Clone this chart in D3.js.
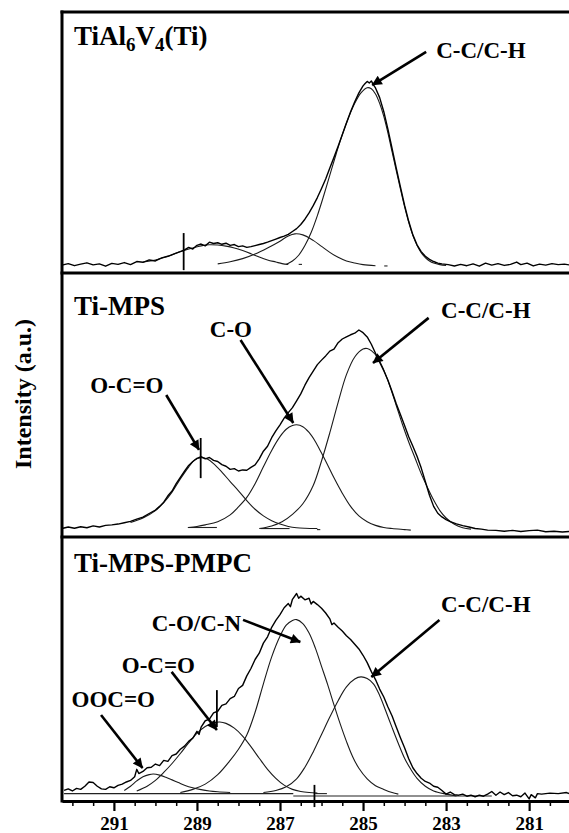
<!DOCTYPE html>
<html><head><meta charset="utf-8">
<script src="https://cdn.jsdelivr.net/npm/d3@7"></script>
<style>
html,body{margin:0;padding:0;background:#fff;}
svg{display:block;}
text{font-family:"Liberation Serif","Times New Roman",serif;font-weight:bold;fill:#000;}
</style></head><body>
<svg id="chart" width="569" height="833"></svg>
<script>
// ---------------- DATA ----------------
const energyDomain = [292.25, 280.04];           // binding energy (eV), reversed axis
const majorTickValues = [291, 289, 287, 285, 283, 281];
const minorTickValues = [292, 291.5, 290.5, 290, 289.5, 288.5, 288, 287.5, 286.5, 286, 285.5, 284.5, 284, 283.5, 282.5, 282, 281.5, 280.5];
const yAxisTitle = "Intensity (a.u.)";

// Panel 1: TiAl6V4 (Ti)
const p1Title = [["TiAl",""],["6","sub"],["V",""],["4","sub"],["(Ti)",""]];
const p1Envelope = [[292.25,3.0],[292.1,3.6],[291.95,2.8],[291.8,3.4],[291.65,3.9],[291.5,3.1],[291.35,3.5],[291.2,2.6],[291.05,3.7],[290.9,3.3],[290.75,4.0],[290.6,3.2],[290.45,4.4],[290.3,4.1],[290.15,5.0],[290.0,4.6],[289.85,5.8],[289.7,6.4],[289.55,7.3],[289.4,8.2],[289.3,8.9],[289.2,9.8],[289.1,9.2],[289.0,10.6],[288.9,11.1],[288.8,10.4],[288.7,11.8],[288.6,11.3],[288.5,11.6],[288.4,11.0],[288.3,11.4],[288.2,10.6],[288.1,10.9],[288.0,10.1],[287.9,10.4],[287.8,9.8],[287.7,10.1],[287.6,10.5],[287.5,10.9],[287.4,11.3],[287.3,11.8],[287.2,12.4],[287.1,13.0],[287.0,13.6],[286.9,14.1],[286.8,14.8],[286.7,15.9],[286.6,17.0],[286.5,18.6],[286.4,20.6],[286.3,23.0],[286.2,25.8],[286.1,28.9],[286.0,32.4],[285.9,36.0],[285.8,40.2],[285.7,44.3],[285.6,48.6],[285.5,53.0],[285.4,57.5],[285.3,61.8],[285.2,65.6],[285.1,69.0],[285.0,71.7],[284.95,72.6],[284.9,73.4],[284.85,72.8],[284.8,73.6],[284.75,72.1],[284.7,70.9],[284.6,67.2],[284.5,61.8],[284.4,55.0],[284.3,47.6],[284.2,40.2],[284.1,33.0],[284.0,26.0],[283.9,19.8],[283.8,14.6],[283.7,10.8],[283.6,8.2],[283.5,6.4],[283.4,5.2],[283.3,4.4],[283.2,3.8],[283.1,3.5],[282.95,3.2],[282.8,2.7],[282.65,3.3],[282.5,2.8],[282.35,3.5],[282.2,2.6],[282.05,3.8],[281.9,3.0],[281.75,3.6],[281.6,2.9],[281.45,3.3],[281.3,4.2],[281.2,3.2],[281.05,3.8],[280.9,2.7],[280.75,3.4],[280.6,3.0],[280.45,3.6],[280.3,3.2],[280.15,3.4],[280.04,3.1]];
const p1OCO = [[290.3,4.2],[290.0,5.0],[289.7,6.4],[289.4,8.2],[289.1,9.6],[288.9,10.4],[288.7,10.8],[288.5,10.7],[288.3,10.3],[288.1,9.6],[287.9,8.6],[287.7,7.4],[287.5,6.1],[287.3,5.0],[287.1,4.2],[286.95,3.6],[286.8,3.3]];
const p1CO = [[288.5,3.5],[288.2,4.3],[287.9,5.5],[287.6,7.3],[287.3,9.6],[287.0,12.2],[286.8,14.2],[286.64,15.0],[286.45,14.6],[286.2,12.5],[286.0,10.2],[285.8,7.9],[285.6,6.0],[285.4,4.6],[285.2,3.8],[285.0,3.2],[284.7,2.8]];
const p1CC = [[286.85,3.3],[286.7,4.6],[286.55,6.8],[286.4,10.5],[286.25,15.5],[286.1,22.0],[285.95,29.5],[285.8,37.5],[285.65,45.5],[285.5,53.0],[285.35,59.5],[285.2,65.0],[285.05,69.0],[284.9,71.0],[284.8,70.6],[284.7,68.6],[284.6,65.0],[284.5,60.0],[284.4,53.6],[284.3,46.4],[284.2,39.2],[284.1,32.2],[284.0,25.4],[283.9,19.4],[283.8,14.4],[283.7,10.6],[283.6,7.8],[283.5,5.9],[283.4,4.6],[283.3,3.8],[283.15,3.2],[283.0,2.9]];
const p1Background = [[286.55,286.47,3.3],[284.49,284.41,2.7]];
const p1Cursor = [[289.32,15.3,1.1]];
const p1Labels = [{t:"C-C/C-H", x:283.24, y:82.4, ax1:283.48, ay1:84.7, ax2:284.78, ay2:72.0}];

// Panel 2: Ti-MPS
const p2Title = [["Ti-MPS",""]];
const p2Envelope = [[292.25,3.2],[292.1,3.8],[291.95,3.3],[291.8,3.9],[291.65,3.5],[291.5,4.2],[291.35,3.8],[291.2,4.4],[291.05,4.6],[290.9,4.9],[290.75,5.4],[290.6,5.9],[290.45,6.8],[290.3,7.5],[290.15,8.9],[290.0,10.2],[289.9,11.6],[289.8,13.2],[289.7,15.6],[289.6,17.4],[289.5,20.2],[289.4,22.6],[289.3,24.9],[289.2,27.1],[289.1,28.6],[289.0,29.8],[288.9,30.4],[288.8,29.6],[288.7,30.1],[288.6,29.0],[288.5,28.6],[288.4,27.4],[288.3,26.8],[288.2,25.6],[288.1,25.9],[288.0,25.0],[287.9,25.4],[287.8,25.3],[287.7,26.4],[287.6,27.3],[287.5,29.6],[287.4,32.5],[287.3,34.4],[287.2,37.6],[287.1,40.2],[287.0,42.5],[286.9,45.0],[286.8,47.1],[286.7,49.0],[286.6,51.6],[286.5,54.2],[286.4,57.5],[286.3,60.4],[286.2,62.8],[286.1,65.3],[286.0,67.0],[285.9,68.6],[285.8,70.4],[285.7,71.2],[285.6,73.6],[285.5,75.0],[285.4,75.8],[285.3,76.6],[285.2,77.2],[285.1,78.4],[285.0,77.4],[284.9,75.8],[284.8,73.0],[284.7,69.6],[284.6,66.2],[284.5,63.0],[284.4,59.4],[284.3,55.0],[284.2,50.5],[284.1,46.4],[284.0,42.2],[283.9,38.0],[283.8,34.4],[283.7,30.6],[283.6,26.2],[283.5,21.0],[283.4,15.8],[283.3,11.6],[283.2,9.0],[283.1,7.6],[283.0,6.6],[282.9,5.8],[282.75,5.0],[282.6,4.3],[282.45,3.8],[282.3,3.2],[282.15,3.0],[282.0,2.6],[281.8,2.5],[281.6,2.2],[281.4,2.5],[281.2,2.1],[281.0,2.4],[280.8,2.6],[280.6,2.0],[280.4,2.2],[280.2,1.9],[280.04,2.1]];
const p2OCO = [[290.6,5.5],[290.3,7.2],[290.0,10.0],[289.8,13.0],[289.6,17.0],[289.4,22.0],[289.2,26.5],[289.05,29.2],[288.9,30.0],[288.75,29.5],[288.6,27.8],[288.4,24.6],[288.2,21.0],[288.0,17.5],[287.8,13.8],[287.6,10.5],[287.4,8.0],[287.2,6.2],[287.0,4.9],[286.8,4.0],[286.6,3.5],[286.4,3.3],[286.1,3.2]];
const p2CO = [[289.2,3.6],[289.0,4.0],[288.8,4.6],[288.5,5.8],[288.2,8.4],[288.0,11.4],[287.8,15.0],[287.6,20.2],[287.4,26.6],[287.2,32.8],[287.0,38.0],[286.85,40.8],[286.7,42.2],[286.6,42.5],[286.45,41.8],[286.3,39.6],[286.15,36.2],[286.0,31.8],[285.85,27.2],[285.7,22.4],[285.5,16.6],[285.3,11.6],[285.1,8.0],[284.9,5.8],[284.7,4.4],[284.5,3.6],[284.3,3.2],[284.0,2.8],[283.85,2.6]];
const p2CC = [[287.5,3.2],[287.2,4.2],[286.95,5.8],[286.7,8.6],[286.45,12.6],[286.2,19.5],[286.0,28.8],[285.8,39.5],[285.6,51.0],[285.4,61.5],[285.2,68.2],[285.0,71.2],[284.9,71.4],[284.8,70.6],[284.65,68.0],[284.5,63.2],[284.35,57.0],[284.2,49.8],[284.05,42.6],[283.9,36.0],[283.75,30.0],[283.6,24.0],[283.45,18.8],[283.3,14.0],[283.15,10.0],[283.0,7.2],[282.8,4.8],[282.6,3.5],[282.4,3.0]];
const p2Background = [[289.22,288.52,3.6],[287.47,286.77,3.2],[286.11,286.03,2.8]];
const p2Cursor = [[288.91,37.5,22.3]];
const p2Labels = [
  {t:"C-C/C-H", x:283.12, y:83.0, ax1:283.42, ay1:83.0, ax2:284.76, ay2:65.9},
  {t:"C-O", x:288.69, y:75.8, ax1:287.95, ay1:74.6, ax2:286.68, ay2:43.2},
  {t:"O-C=O", x:291.57, y:54.5, ax1:289.74, ay1:53.8, ax2:288.95, ay2:33.0}
];

// Panel 3: Ti-MPS-PMPC
const p3Title = [["Ti-MPS-PMPC",""]];
const p3Envelope = [[292.2,4.0],[292.1,4.6],[292.0,3.8],[291.9,4.8],[291.8,4.4],[291.7,5.6],[291.6,7.2],[291.5,7.0],[291.4,5.6],[291.3,4.6],[291.2,4.4],[291.1,5.4],[291.0,5.0],[290.9,5.9],[290.8,6.4],[290.7,7.2],[290.6,7.8],[290.5,9.2],[290.45,12.0],[290.4,10.4],[290.3,11.2],[290.2,12.6],[290.1,12.8],[290.0,14.0],[289.9,13.4],[289.8,15.4],[289.7,15.0],[289.6,17.2],[289.5,17.8],[289.4,19.6],[289.3,20.8],[289.2,22.6],[289.1,23.8],[289.0,26.4],[288.95,25.2],[288.9,28.0],[288.8,30.4],[288.7,31.0],[288.6,33.4],[288.5,34.0],[288.4,36.2],[288.3,36.8],[288.2,38.8],[288.1,39.6],[288.0,42.6],[287.9,43.8],[287.8,47.4],[287.7,50.2],[287.6,53.6],[287.5,56.0],[287.4,59.8],[287.3,62.2],[287.2,65.8],[287.1,68.4],[287.0,70.6],[286.9,73.2],[286.8,74.8],[286.75,73.6],[286.7,76.4],[286.6,78.6],[286.55,76.8],[286.5,77.6],[286.4,76.2],[286.3,76.8],[286.25,74.6],[286.2,75.6],[286.1,74.4],[286.0,73.0],[285.9,71.2],[285.8,69.0],[285.75,66.8],[285.7,67.4],[285.6,65.8],[285.5,64.4],[285.4,62.6],[285.3,61.2],[285.2,59.4],[285.1,57.6],[285.0,55.2],[284.9,52.4],[284.8,49.0],[284.7,46.0],[284.6,42.4],[284.5,39.4],[284.4,35.6],[284.3,32.2],[284.2,28.0],[284.1,24.0],[284.0,20.2],[283.9,16.0],[283.8,12.6],[283.7,10.4],[283.6,8.6],[283.5,7.4],[283.4,6.8],[283.3,5.6],[283.2,5.2],[283.1,4.0],[283.0,2.6],[282.9,3.4],[282.8,2.4],[282.7,2.2],[282.6,2.6],[282.5,1.8],[282.4,2.2],[282.3,1.6],[282.2,2.2],[282.1,1.8],[282.0,2.6],[281.9,3.6],[281.8,2.2],[281.7,3.4],[281.6,2.4],[281.5,3.2],[281.4,2.0],[281.3,2.2],[281.2,1.6],[281.1,3.0],[281.0,0.8],[280.95,2.4],[280.85,1.2],[280.8,2.8],[280.7,2.6],[280.5,3.0],[280.3,2.8],[280.1,3.2],[280.04,2.8]];
const p3OOCO = [[290.75,4.0],[290.6,5.6],[290.45,7.6],[290.3,9.2],[290.15,10.0],[290.05,10.2],[289.9,9.8],[289.75,9.0],[289.6,8.0],[289.45,7.0],[289.3,6.0],[289.1,5.0],[288.9,4.3],[288.7,3.8],[288.5,3.5],[288.2,3.2]];
const p3OCO = [[290.45,3.8],[290.2,5.6],[290.0,7.8],[289.8,10.8],[289.6,14.2],[289.4,18.0],[289.2,22.0],[289.0,25.6],[288.8,28.2],[288.6,29.6],[288.45,29.9],[288.3,29.4],[288.1,27.6],[287.9,24.6],[287.7,20.6],[287.5,16.2],[287.3,12.0],[287.1,8.6],[286.9,6.0],[286.7,4.4],[286.5,3.6],[286.3,3.2],[286.1,3.0]];
const p3CON = [[289.4,3.2],[289.1,4.4],[288.8,6.4],[288.5,10.0],[288.2,15.4],[288.0,19.6],[287.8,25.0],[287.6,33.6],[287.4,44.4],[287.2,54.6],[287.0,62.4],[286.85,66.6],[286.7,68.4],[286.6,68.7],[286.45,67.2],[286.3,63.6],[286.15,58.0],[286.0,51.0],[285.85,44.0],[285.7,36.4],[285.55,29.2],[285.4,22.6],[285.25,16.8],[285.1,12.4],[284.9,8.4],[284.7,5.8],[284.5,4.4],[284.3,3.2],[284.15,2.6]];
const p3CC = [[287.4,3.2],[287.1,4.0],[286.85,5.4],[286.6,8.4],[286.4,12.8],[286.2,18.6],[286.0,25.2],[285.8,31.8],[285.6,38.0],[285.4,43.2],[285.2,46.2],[285.05,47.0],[284.9,46.4],[284.75,44.4],[284.6,40.0],[284.45,34.0],[284.3,27.8],[284.15,21.8],[284.0,16.2],[283.85,12.0],[283.7,8.6],[283.5,5.6],[283.3,3.8],[283.0,2.6],[282.75,1.9]];
const p3Background = [[292.2,286.68,2.8],[286.68,281.9,1.9],[286.15,285.87,2.8]];
const p3Cursor = [[288.52,42.0,28.0],[286.17,6.1,-2.3]];
const p3Labels = [
  {t:"C-C/C-H", x:283.12, y:71.6, ax1:283.16, ay1:68.6, ax2:284.8, ay2:47.0},
  {t:"C-O/C-N", x:290.09, y:64.4, ax1:287.89, ay1:68.6, ax2:286.51, ay2:60.2},
  {t:"O-C=O", x:290.81, y:48.5, ax1:289.61, ay1:48.9, ax2:288.52, ay2:26.9},
  {t:"OOC=O", x:292.02, y:35.6, ax1:291.31, ay1:32.6, ax2:290.31, ay2:12.5}
];

// ---------------- DRAWING ----------------
const left = 62, right = 569;
const panelTops = [12, 273, 537];
const panelBottoms = [273, 537, 801];

const panels = [
  {title:p1Title, env:p1Envelope, comps:[p1OCO,p1CO,p1CC], bg:p1Background, cur:p1Cursor, labels:p1Labels, titleY:87.4},
  {title:p2Title, env:p2Envelope, comps:[p2OCO,p2CO,p2CC], bg:p2Background, cur:p2Cursor, labels:p2Labels, titleY:84.1},
  {title:p3Title, env:p3Envelope, comps:[p3OOCO,p3OCO,p3CON,p3CC], bg:p3Background, cur:p3Cursor, labels:p3Labels, titleY:86.7}
];

const svg = d3.select("#chart");
const x = d3.scaleLinear().domain(energyDomain).range([left, right]);

svg.append("defs").append("marker")
  .attr("id","arrowhead").attr("viewBox","0 0 10 10")
  .attr("refX",9.5).attr("refY",5)
  .attr("markerWidth",13).attr("markerHeight",10)
  .attr("markerUnits","userSpaceOnUse").attr("orient","auto")
  .append("path").attr("d","M0,0 L10,5 L0,10 Z").attr("fill","#000");

panels.forEach((p, i) => {
  const y = d3.scaleLinear().domain([0,100]).range([panelBottoms[i], panelTops[i]]);
  const g = svg.append("g");
  const envLine = d3.line().x(d=>x(d[0])).y(d=>y(d[1])).curve(d3.curveLinear);
  const compLine = d3.line().x(d=>x(d[0])).y(d=>y(d[1])).curve(d3.curveCatmullRom);

  g.selectAll("line.bg").data(p.bg).join("line")
    .attr("x1",d=>x(d[0])).attr("x2",d=>x(d[1]))
    .attr("y1",d=>y(d[2])).attr("y2",d=>y(d[2]))
    .attr("stroke","#222").attr("stroke-width",1.1);

  p.comps.forEach(c => {
    g.append("path").datum(c).attr("d",compLine)
      .attr("fill","none").attr("stroke","#1a1a1a").attr("stroke-width",1.1);
  });
  g.append("path").datum(p.env).attr("d",envLine)
    .attr("fill","none").attr("stroke","#000").attr("stroke-width",1.4)
    .attr("stroke-linejoin","round");

  g.selectAll("line.cur").data(p.cur).join("line")
    .attr("x1",d=>x(d[0])).attr("x2",d=>x(d[0]))
    .attr("y1",d=>y(d[1])).attr("y2",d=>y(d[2]))
    .attr("stroke","#000").attr("stroke-width",1.8);

  // title
  const tt = g.append("text").attr("x", left + 12).attr("y", y(p.titleY))
    .attr("font-size", 27);
  p.title.forEach((part, k) => {
    if (part[1] === "sub") {
      tt.append("tspan").attr("font-size",19).attr("dy",6).text(part[0]);
    } else {
      const s = tt.append("tspan").text(part[0]);
      if (k > 0) s.attr("dy",-6);
    }
  });

  // labels + arrows
  p.labels.forEach(l => {
    g.append("text").attr("x",x(l.x)).attr("y",y(l.y)).attr("font-size",23).text(l.t);
    g.append("line")
      .attr("x1",x(l.ax1)).attr("y1",y(l.ay1))
      .attr("x2",x(l.ax2)).attr("y2",y(l.ay2))
      .attr("stroke","#000").attr("stroke-width",2.6)
      .attr("marker-end","url(#arrowhead)");
  });
});

// frame lines
svg.selectAll("line.sep").data(panelTops).join("line")
  .attr("x1",left-1.5).attr("x2",right).attr("y1",d=>d).attr("y2",d=>d)
  .attr("stroke","#000").attr("stroke-width",3);
svg.append("line").attr("x1",left).attr("x2",left).attr("y1",panelTops[0]-1.5).attr("y2",panelBottoms[2]+1.5)
  .attr("stroke","#000").attr("stroke-width",3);

// axis
const minorAxis = svg.append("g").attr("transform",`translate(0,${panelBottoms[2]})`)
  .call(d3.axisBottom(x).tickValues(minorTickValues).tickSize(5).tickSizeOuter(0).tickFormat(""));
minorAxis.select(".domain").remove();
minorAxis.selectAll(".tick line").attr("stroke","#000").attr("stroke-width",1.5);

const majorAxis = svg.append("g").attr("transform",`translate(0,${panelBottoms[2]})`)
  .call(d3.axisBottom(x).tickValues(majorTickValues).tickSize(10).tickSizeOuter(0).tickPadding(6).tickFormat(d3.format("d")));
majorAxis.select(".domain").attr("stroke","#000").attr("stroke-width",3);
majorAxis.selectAll(".tick line").attr("stroke","#000").attr("stroke-width",2.2);
majorAxis.selectAll(".tick text").attr("font-size",19)
  .attr("font-family","'Liberation Serif','Times New Roman',serif").attr("font-weight","bold").attr("fill","#000");

// y axis title
svg.append("text").attr("transform","translate(31,394) rotate(-90)")
  .attr("text-anchor","middle").attr("font-size",24).text(yAxisTitle);
</script>
</body></html>
